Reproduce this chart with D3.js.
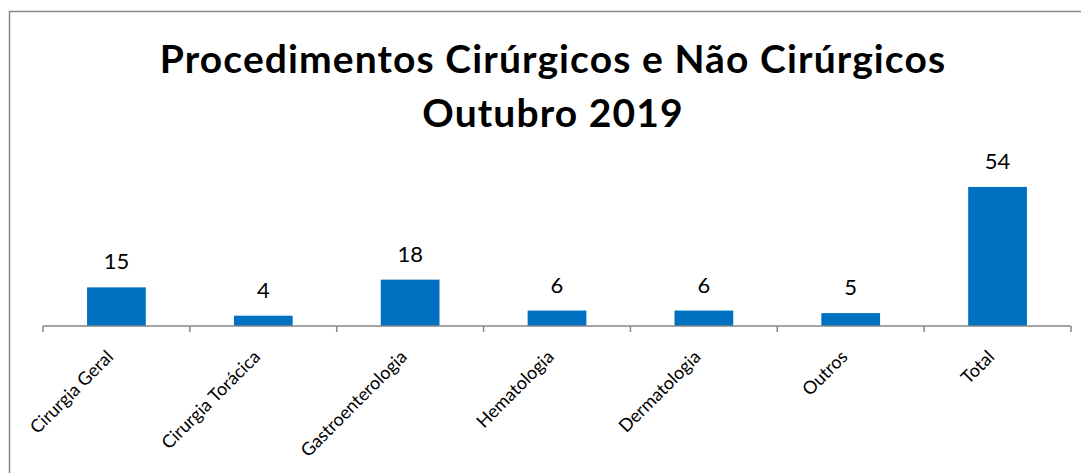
<!DOCTYPE html>
<html>
<head>
<meta charset="utf-8">
<script src="https://cdn.jsdelivr.net/npm/d3@7"></script>
<style>
  body { margin: 0; background: #fff; }
  text { font-family: Lato, "Open Sans", sans-serif; }
</style>
</head>
<body>
<div id="chart"></div>
<script>
var categories = ["Cirurgia Geral", "Cirurgia Torácica", "Gastroenterologia", "Hematologia", "Dermatologia", "Outros", "Total"];
var values = [15, 4, 18, 6, 6, 5, 54];
var titleLines = ["Procedimentos Cirúrgicos e Não Cirúrgicos", "Outubro 2019"];

function init() {
    const w = 1081;
    const h = 473;

    var svg = d3.select("#chart")
        .append("svg")
        .attr("width", w)
        .attr("height", h);

    // chart frame (cut by the right and bottom edge)
    svg.append("rect")
        .attr("x", 9.5)
        .attr("y", 11.5)
        .attr("width", w + 20)
        .attr("height", h + 20)
        .attr("fill", "#fff")
        .attr("stroke", "#888")
        .attr("stroke-width", 1.5);

    // title
    svg.selectAll("text.title")
        .data(titleLines)
        .enter()
        .append("text")
        .attr("class", "title")
        .attr("x", 553)
        .attr("y", function (d, i) { return 73 + i * 54; })
        .attr("text-anchor", "middle")
        .attr("font-size", 39)
        .attr("font-weight", "bold")
        .attr("letter-spacing", 1.1)
        .attr("fill", "#000")
        .text(function (d) { return d; });

    var x = d3.scaleBand()
        .domain(categories)
        .range([43, 1071])
        .paddingInner(0.6)
        .paddingOuter(0.3);

    var y = d3.scaleLinear()
        .domain([0, 60])
        .range([326, 171.5]);

    // bars
    svg.selectAll("rect.bar")
        .data(values)
        .enter()
        .append("rect")
        .attr("class", "bar")
        .attr("x", function (d, i) { return x(categories[i]); })
        .attr("y", function (d) { return y(d); })
        .attr("width", x.bandwidth())
        .attr("height", function (d) { return y(0) - y(d); })
        .attr("fill", "#0070C0");

    // value labels
    svg.selectAll("text.value")
        .data(values)
        .enter()
        .append("text")
        .attr("class", "value")
        .attr("x", function (d, i) { return x(categories[i]) + x.bandwidth() / 2; })
        .attr("y", function (d) { return y(d) - 18; })
        .attr("text-anchor", "middle")
        .attr("font-size", 22)
        .attr("fill", "#000")
        .text(function (d) { return d; });

    // x axis with ticks between the categories
    var axisG = svg.append("g");
    axisG.append("line")
        .attr("x1", 43).attr("x2", 1071)
        .attr("y1", 326).attr("y2", 326)
        .attr("stroke", "#868686")
        .attr("stroke-width", 1.5);

    var edges = d3.range(categories.length + 1).map(function (i) { return 43 + i * (1028 / categories.length); });
    axisG.selectAll("line.tick")
        .data(edges)
        .enter()
        .append("line")
        .attr("class", "tick")
        .attr("x1", function (d) { return d; })
        .attr("x2", function (d) { return d; })
        .attr("y1", 326)
        .attr("y2", 332)
        .attr("stroke", "#868686")
        .attr("stroke-width", 1.5);

    // category labels, rotated
    svg.selectAll("text.cat")
        .data(categories)
        .enter()
        .append("text")
        .attr("class", "cat")
        .attr("transform", function (d) {
            return "translate(" + (x(d) + x.bandwidth() / 2 - 2) + ",358) rotate(-45)";
        })
        .attr("text-anchor", "end")
        .attr("font-size", 18)
        .attr("fill", "#000")
        .text(function (d) { return d; });
}
window.onload = init();
</script>
</body>
</html>
